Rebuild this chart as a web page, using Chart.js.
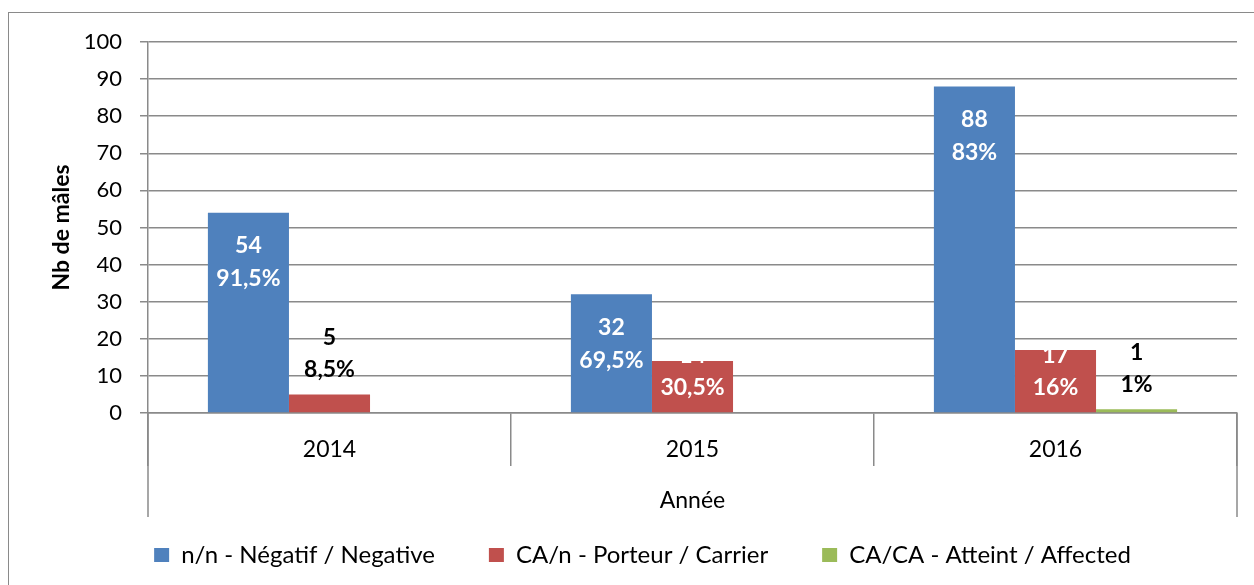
<!DOCTYPE html>
<html>
<head>
<meta charset="utf-8">
<script src="https://cdn.jsdelivr.net/npm/chart.js@4.4.1/dist/chart.umd.min.js"></script>
<style>
  html, body { margin: 0; padding: 0; background: #fff; overflow: hidden; }
  #wrap { position: relative; width: 1254px; height: 585px; }
  #frame { position: absolute; left: 8px; top: 12px; width: 1300px; height: 620px; border: 1.5px solid #8a8a8a; box-sizing: border-box; }
  #chart { position: absolute; left: 0; top: 0; }
</style>
</head>
<body>
<div id="wrap">
  <div id="frame"></div>
  <canvas id="chart" width="1254" height="585"></canvas>
</div>
<script>
  const years = ['2014', '2015', '2016'];
  const seriesNames = ['n/n - Négatif / Negative', 'CA/n - Porteur / Carrier', 'CA/CA - Atteint / Affected'];
  const negative = [54, 32, 88];
  const carrier = [5, 14, 17];
  const affected = [null, null, 1];
  const negativePct = ['91,5%', '69,5%', '83%'];
  const carrierPct = ['8,5%', '30,5%', '16%'];
  const affectedPct = [null, null, '1%'];
  const yTicks = [0, 10, 20, 30, 40, 50, 60, 70, 80, 90, 100];

  const FONT = 'Lato';
  const GRID = '#8a8a8a';
  const pctBySeries = [negativePct, carrierPct, affectedPct];

  // value on line 1, share on line 2; small bars get the label above
  const barLabels = {
    id: 'barLabels',
    afterDatasetsDraw(chart) {
      const ctx = chart.ctx;
      ctx.save();
      ctx.font = 'bold 23px ' + FONT;
      ctx.textAlign = 'center';
      ctx.textBaseline = 'middle';
      chart.data.datasets.forEach((ds, di) => {
        chart.getDatasetMeta(di).data.forEach((bar, i) => {
          const v = ds.data[i];
          if (v == null) return;
          let y1, y2, color;
          if (v < 10) {
            y2 = bar.y - 25;
            y1 = y2 - 32;
            color = '#000';
          } else {
            y1 = bar.y + 33;
            y2 = y1 + 33;
            if (y2 > bar.base - 25) {
              y2 = bar.base - 25;
              y1 = y2 - 32;
            }
            color = '#fff';
          }
          ctx.fillStyle = color;
          ctx.fillText(String(v), bar.x, y1);
          ctx.fillText(pctBySeries[di][i], bar.x, y2);
        });
      });
      ctx.restore();
    }
  };

  // outer edges of the category table run down past the axis title
  const tableEdges = {
    id: 'tableEdges',
    afterDraw(chart) {
      const x = chart.scales.x;
      const ctx = chart.ctx;
      const top = chart.chartArea.bottom;
      const bottom = top + 104;
      ctx.save();
      ctx.strokeStyle = GRID;
      ctx.lineWidth = 1.5;
      [x.left, x.right].forEach((px) => {
        ctx.beginPath();
        ctx.moveTo(px, top);
        ctx.lineTo(px, bottom);
        ctx.stroke();
      });
      ctx.restore();
    }
  };

  new Chart(document.getElementById('chart'), {
    type: 'bar',
    data: {
      labels: years,
      datasets: [
        { label: seriesNames[0], data: negative, backgroundColor: '#4f81bd' },
        { label: seriesNames[1], data: carrier, backgroundColor: '#c0504d' },
        { label: seriesNames[2], data: affected, backgroundColor: '#9bbb59' }
      ]
    },
    options: {
      responsive: false,
      animation: false,
      layout: { padding: { top: 42, left: 48, right: 17, bottom: 8 } },
      datasets: {
        bar: { categoryPercentage: 0.67, barPercentage: 1, borderWidth: 0 }
      },
      scales: {
        x: {
          offset: true,
          grid: {
            offset: true,
            drawOnChartArea: false,
            drawTicks: true,
            tickLength: 53,
            color: GRID,
            lineWidth: 1.5
          },
          border: { color: GRID, width: 1.5 },
          ticks: { color: '#000', padding: -30, font: { family: FONT, size: 23 } },
          title: {
            display: true,
            text: 'Année',
            color: '#000',
            font: { family: FONT, size: 23 },
            padding: { top: 0, bottom: -25 }
          },
          afterFit(scale) { scale.height = 76; }
        },
        y: {
          min: 0,
          max: 100,
          afterBuildTicks(scale) { scale.ticks = yTicks.map((v) => ({ value: v })); },
          grid: { color: GRID, lineWidth: 1.5, tickLength: 8 },
          border: { color: GRID, width: 1.5 },
          ticks: { color: '#000', padding: 18, font: { family: FONT, size: 22 } },
          title: {
            display: true,
            text: 'Nb de mâles',
            color: '#000',
            font: { family: FONT, size: 23, weight: 'bold' },
            padding: { top: 0, bottom: 0 }
          },
          afterFit(scale) { scale.width = 100; }
        }
      },
      plugins: {
        legend: {
          position: 'bottom',
          labels: {
            color: '#000',
            boxWidth: 15,
            boxHeight: 14,
            padding: 54,
            font: { family: FONT, size: 24 }
          }
        },
        tooltip: { enabled: false }
      }
    },
    plugins: [barLabels, tableEdges]
  });
</script>
</body>
</html>
